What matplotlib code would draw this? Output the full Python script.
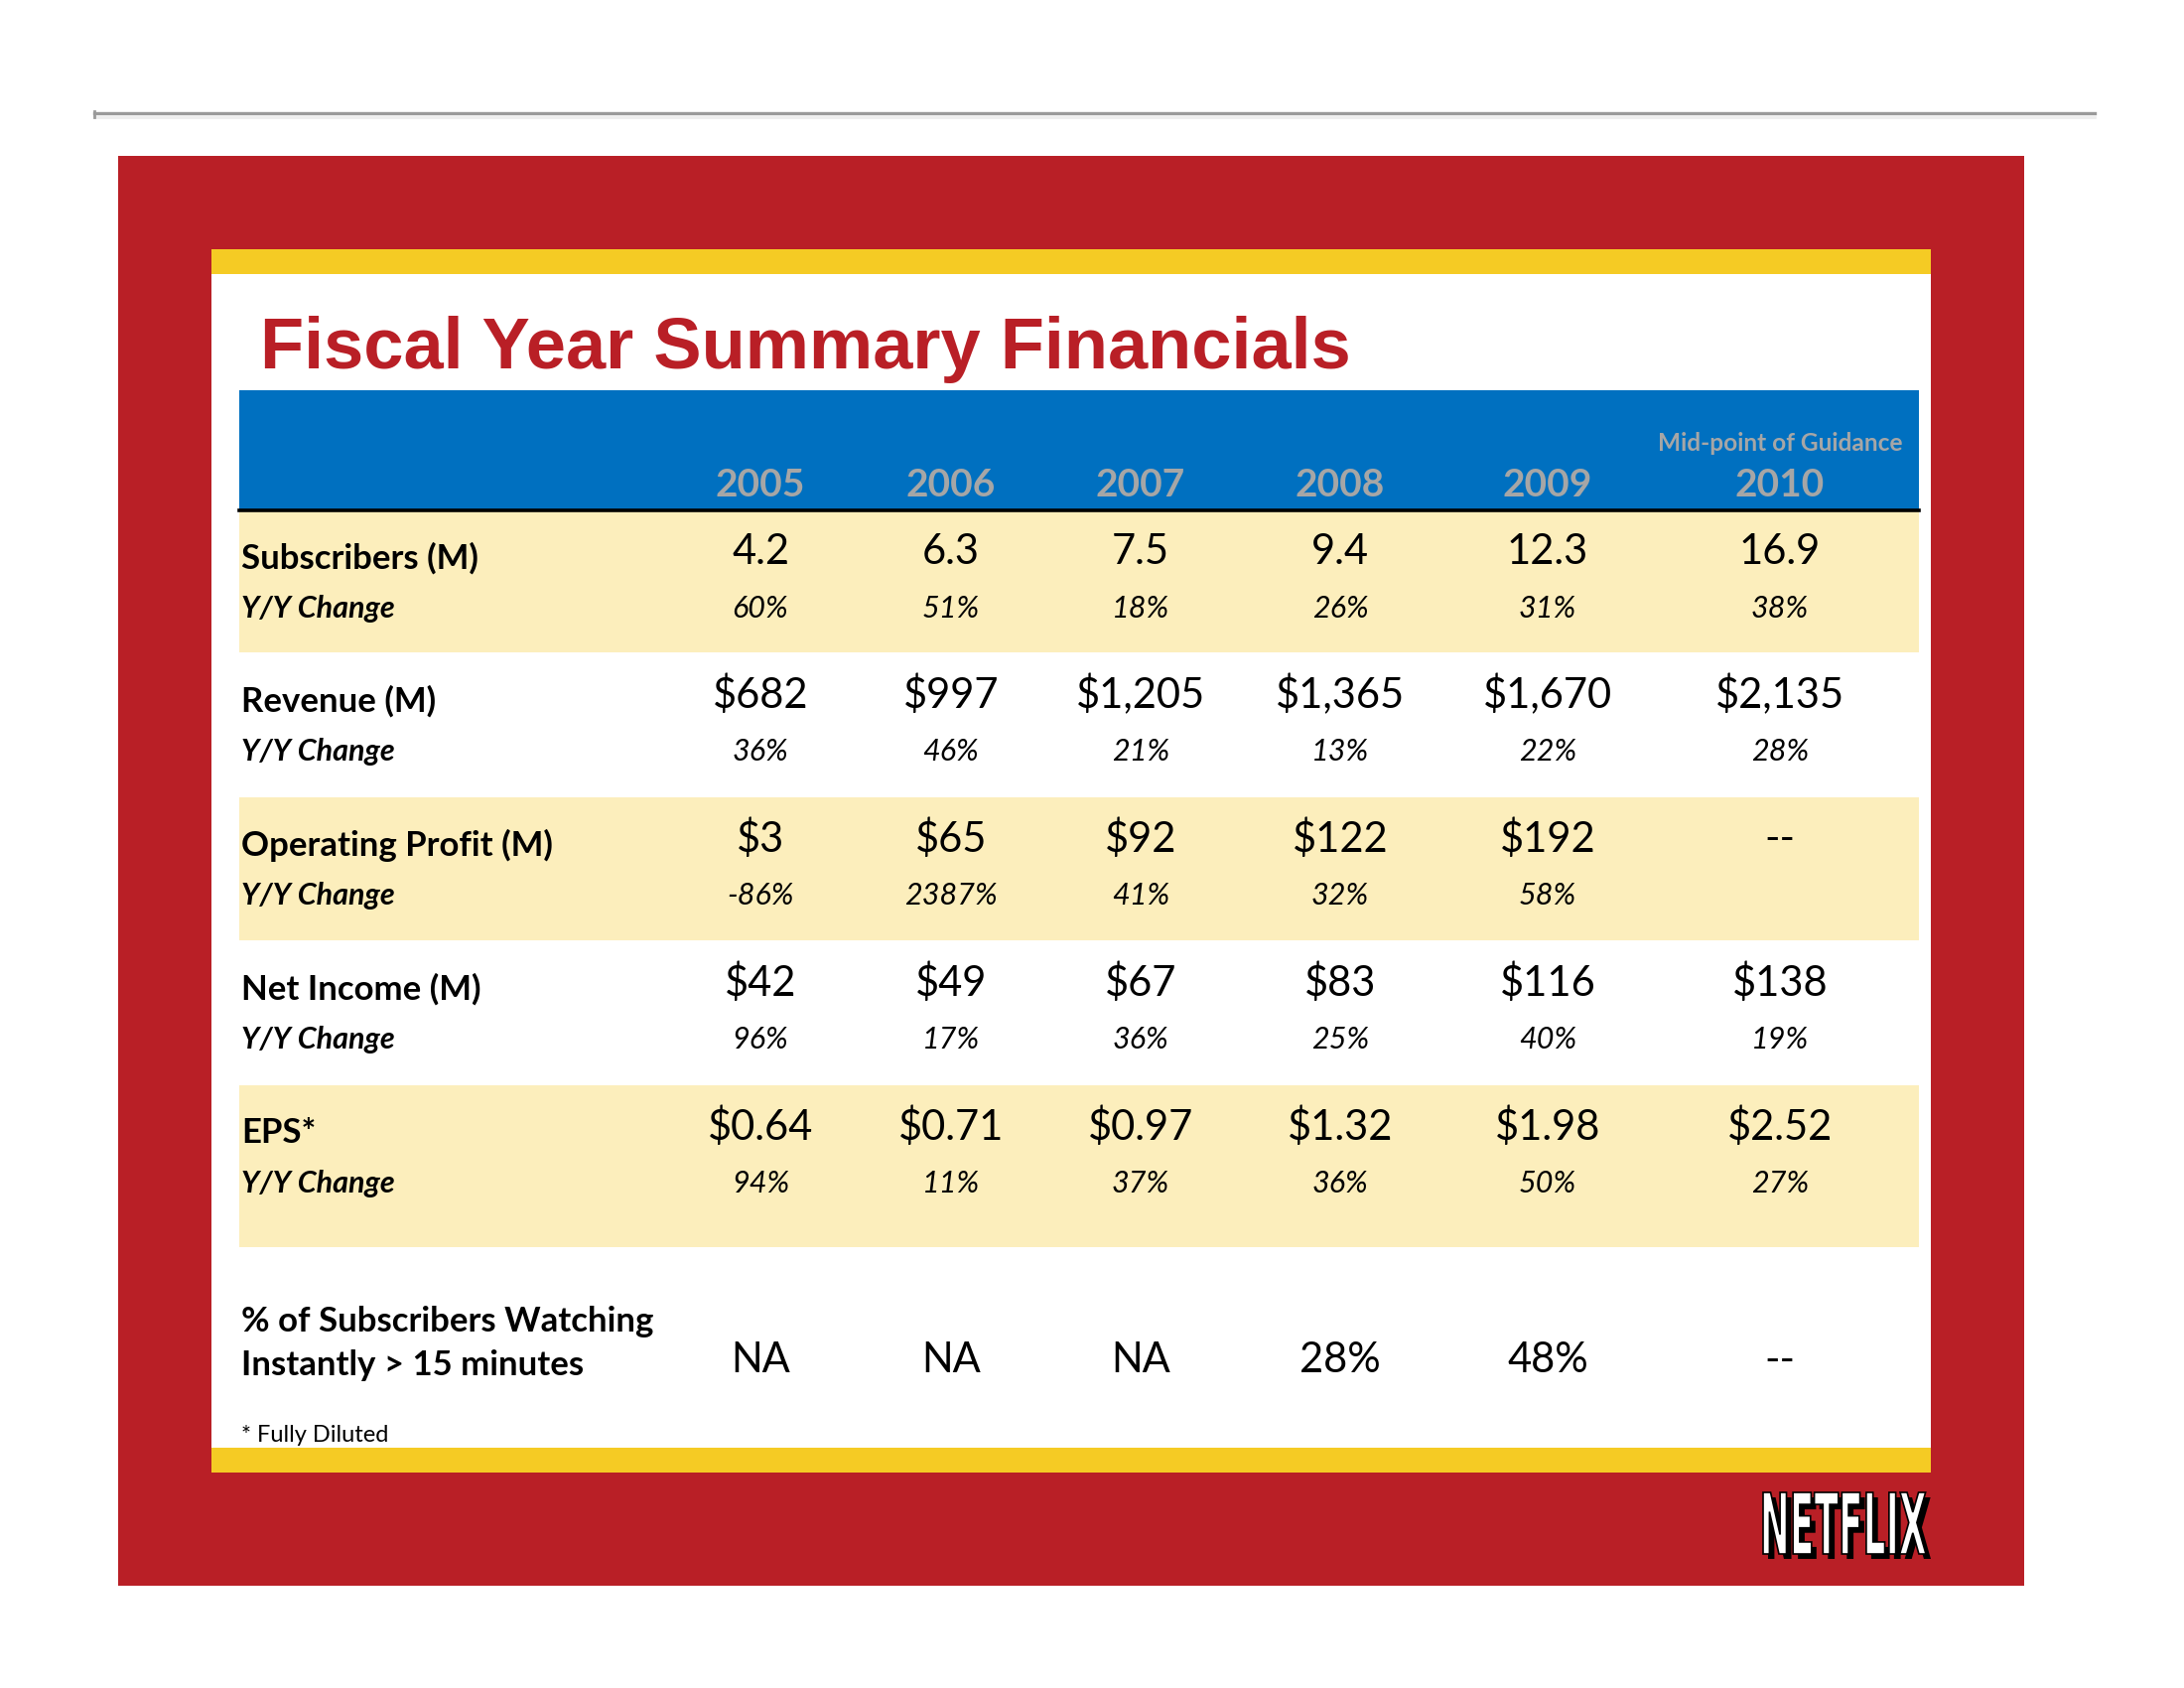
import numpy as np
import matplotlib.pyplot as plt
from matplotlib.patches import Rectangle, PathPatch
from matplotlib.textpath import TextPath
from matplotlib.font_manager import FontProperties
from matplotlib.transforms import Affine2D

# data
years = ['2005', '2006', '2007', '2008', '2009', '2010']
subscribers = [4.2, 6.3, 7.5, 9.4, 12.3, 16.9]
subscribers_yoy = [60, 51, 18, 26, 31, 38]
revenue = [682, 997, 1205, 1365, 1670, 2135]
revenue_yoy = [36, 46, 21, 13, 22, 28]
op_profit = [3, 65, 92, 122, 192, None]
op_profit_yoy = [-86, 2387, 41, 32, 58, None]
net_income = [42, 49, 67, 83, 116, 138]
net_income_yoy = [96, 17, 36, 25, 40, 19]
eps = [0.64, 0.71, 0.97, 1.32, 1.98, 2.52]
eps_yoy = [94, 11, 37, 36, 50, 27]
pct_watching = [None, None, None, 28, 48, None]  # None before 2008 = NA, 2010 = --

RED = '#B91F26'
YELLOW = '#F5CB24'
BLUE = '#0070C0'
BAND = '#FCEEBC'
GRAY = '#A6A6A6'
FONT = 'Lato'

fig = plt.figure(figsize=(11, 8.5), dpi=200)
ax = fig.add_axes([0, 0, 1, 1])
ax.set_xlim(0, 2200)
ax.set_ylim(1700, 0)
ax.axis('off')

def rect(x0, y0, x1, y1, color, z=1):
    ax.add_patch(Rectangle((x0, y0), x1 - x0, y1 - y0, facecolor=color, edgecolor='none', zorder=z))

# top rule
ax.plot([95, 2110], [114, 114], color='#9a9a9a', lw=1.2)
ax.plot([95, 2110], [118, 118], color='#eeeeee', lw=1.0)
ax.plot([95, 95], [112, 118], color='#9a9a9a', lw=1.0)

# frame
rect(119, 157, 2039, 1597, RED)
rect(213, 251, 1945, 1483, YELLOW, 2)
rect(213, 276, 1945, 1458, 'white', 3)

ax.text(262, 371, 'Fiscal Year Summary Financials', color=RED, fontsize=26,
        fontweight='bold', family='Liberation Sans', va='baseline', zorder=5)

# header
rect(241, 393, 1933, 514, BLUE, 4)
ax.plot([241, 1933], [514, 514], color='black', lw=1.3, zorder=5)
col_x = [766, 958, 1149, 1350, 1559, 1793]
for x, yr in zip(col_x, years):
    ax.text(x, 488, yr, color=GRAY, fontsize=14, fontweight='bold', family=FONT,
            ha='center', va='center', zorder=6)
ax.text(col_x[-1], 446, 'Mid-point of Guidance', color=GRAY, fontsize=8.8,
        fontweight='bold', family=FONT, ha='center', va='center', zorder=6)

# row bands
for y0, y1 in [(515, 657), (803, 947), (1093, 1256)]:
    rect(241, y0, 1933, y1, BAND, 4)

def fmt_pct(v):
    return '--' if v is None else f'{v:.0f}%'

rows = [
    ('Subscribers (M)', [f'{v:.1f}' for v in subscribers], [fmt_pct(v) for v in subscribers_yoy], 556),
    ('Revenue (M)', [f'${v:,.0f}' for v in revenue], [fmt_pct(v) for v in revenue_yoy], 700),
    ('Operating Profit (M)', ['--' if v is None else f'${v:,.0f}' for v in op_profit],
     ['' if v is None else f'{v:.0f}%' for v in op_profit_yoy], 845),
    ('Net Income (M)', [f'${v:,.0f}' for v in net_income], [fmt_pct(v) for v in net_income_yoy], 990),
    ('EPS*', [f'${v:.2f}' for v in eps], [fmt_pct(v) for v in eps_yoy], 1135),
]

LX = 243
for label, vals, yoys, y in rows:
    ax.text(LX, y + 6, label, fontsize=12.5, fontweight='bold', family=FONT,
            va='center', zorder=6)
    ax.text(LX, y + 57, 'Y/Y Change', fontsize=11, fontweight='bold', style='italic',
            family=FONT, va='center', zorder=6)
    for x, v, yy in zip(col_x, vals, yoys):
        ax.text(x, y, v, fontsize=15, family=FONT, ha='center', va='center', zorder=6)
        ax.text(x, y + 57, yy, fontsize=11, style='italic', family=FONT,
                ha='center', va='center', zorder=6)

ax.text(LX, 1331, '% of Subscribers Watching', fontsize=12.5, fontweight='bold',
        family=FONT, va='center', zorder=6)
ax.text(LX, 1375, 'Instantly > 15 minutes', fontsize=12.5, fontweight='bold',
        family=FONT, va='center', zorder=6)
for i, (x, v) in enumerate(zip(col_x, pct_watching)):
    s = f'{v:.0f}%' if v is not None else ('--' if years[i] == '2010' else 'NA')
    ax.text(x, 1370, s, fontsize=15, family=FONT, ha='center', va='center', zorder=6)

ax.text(LX, 1446, '* Fully Diluted', fontsize=8.5, family=FONT, va='center', zorder=6)

# logo
tp = TextPath((0, 0), 'NETFLIX', size=1, prop=FontProperties(family='DejaVu Sans', weight='bold'))
ext = tp.get_extents()
w_target, h_target = 164, 62
sx = w_target / ext.width
sy = h_target / ext.height
x0, ybase = 1776, 1565
for dx, dy, c in [(5, 5, 'black'), (0, 0, 'white')]:
    tr = Affine2D().translate(-ext.x0, -ext.y0).scale(sx, -sy).translate(x0 + dx, ybase + dy)
    ax.add_patch(PathPatch(tr.transform_path(tp), facecolor=c, edgecolor='black' if c == 'white' else 'none',
                           lw=0.6, zorder=7))

fig.savefig('out.png', dpi=200)
